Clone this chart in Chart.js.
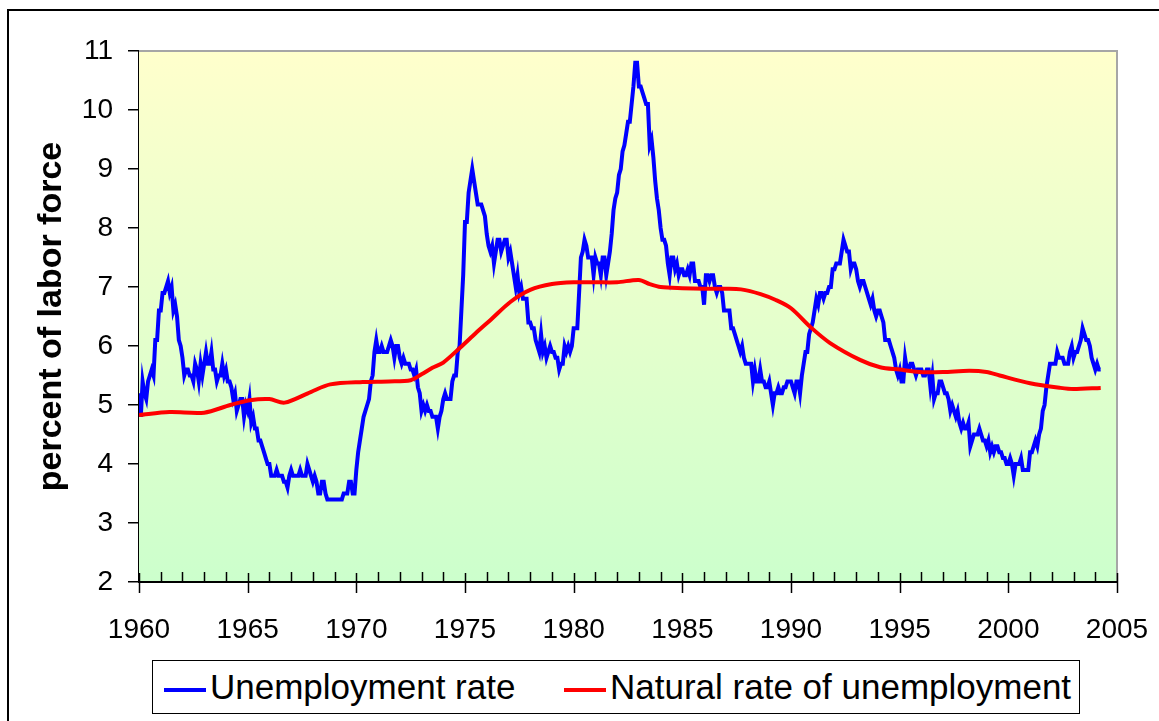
<!DOCTYPE html>
<html lang="en">
<head>
<meta charset="UTF-8">
<title>Unemployment rate and natural rate</title>
<script src="https://cdn.jsdelivr.net/npm/chart.js"></script>
<style>
  html, body { margin: 0; background: #fff; overflow: hidden; font-family: 'Liberation Sans', Arial, sans-serif; }
  #frame { position: absolute; left: 7px; top: 9px; width: 1152px; height: 712px;
           border-top: 2px solid #000; border-left: 2px solid #000; box-sizing: border-box; }
  #wrap { position: absolute; left: 0; top: 0; width: 1159px; height: 721px; }
  #legend { position: absolute; left: 152px; top: 660px; width: 926px; height: 52px;
            border: 1px solid #000; background: #fff; }
  .item { position: absolute; top: 6px; font-size: 35px; line-height: 40px; color: #000; white-space: nowrap; }
  .swatch { position: absolute; top: 27px; width: 42px; height: 4px; }
</style>
</head>
<body>
<div id="frame"></div>
<div id="wrap"><canvas id="chart"></canvas></div>
<div id="legend">
  <div class="swatch" style="left:11px;background:#0000ff"></div>
  <div class="item" style="left:57px">Unemployment rate</div>
  <div class="swatch" style="left:411px;background:#ff0000"></div>
  <div class="item" style="left:457px">Natural rate of unemployment</div>
</div>

<script>
// monthly unemployment rate, Jan 1960 onward (one row per year)
const u1960s = [
  5.2, 4.8, 5.4, 5.2, 5.1, 5.4, 5.5, 5.6, 5.5, 6.1, 6.1, 6.6,
  6.6, 6.9, 6.9, 7.0, 7.1, 6.9, 7.0, 6.6, 6.7, 6.5, 6.1, 6.0,
  5.8, 5.5, 5.6, 5.6, 5.5, 5.5, 5.4, 5.7, 5.6, 5.4, 5.7, 5.5,
  5.7, 5.9, 5.7, 5.7, 5.9, 5.6, 5.6, 5.4, 5.5, 5.5, 5.7, 5.5,
  5.6, 5.4, 5.4, 5.3, 5.1, 5.2, 4.9, 5.0, 5.1, 5.1, 4.8, 5.0,
  4.9, 5.1, 4.7, 4.8, 4.6, 4.6, 4.4, 4.4, 4.3, 4.2, 4.1, 4.0,
  4.0, 3.8, 3.8, 3.8, 3.9, 3.8, 3.8, 3.8, 3.7, 3.7, 3.6, 3.8,
  3.9, 3.8, 3.8, 3.8, 3.8, 3.9, 3.8, 3.8, 3.8, 4.0, 3.9, 3.8,
  3.7, 3.8, 3.7, 3.5, 3.5, 3.7, 3.7, 3.5, 3.4, 3.4, 3.4, 3.4,
  3.4, 3.4, 3.4, 3.4, 3.4, 3.5, 3.5, 3.5, 3.7, 3.7, 3.5, 3.5
];
const u1970s = [
  3.9, 4.2, 4.4, 4.6, 4.8, 4.9, 5.0, 5.1, 5.4, 5.5, 5.9, 6.1,
  5.9, 5.9, 6.0, 5.9, 5.9, 5.9, 6.0, 6.1, 6.0, 5.8, 6.0, 6.0,
  5.8, 5.7, 5.8, 5.7, 5.7, 5.7, 5.6, 5.6, 5.5, 5.6, 5.3, 5.2,
  4.9, 5.0, 4.9, 5.0, 4.9, 4.9, 4.8, 4.8, 4.8, 4.6, 4.8, 4.9,
  5.1, 5.2, 5.1, 5.1, 5.1, 5.4, 5.5, 5.5, 5.9, 6.0, 6.6, 7.2,
  8.1, 8.1, 8.6, 8.8, 9.0, 8.8, 8.6, 8.4, 8.4, 8.4, 8.3, 8.2,
  7.9, 7.7, 7.6, 7.7, 7.4, 7.6, 7.8, 7.8, 7.6, 7.7, 7.8, 7.8,
  7.5, 7.6, 7.4, 7.2, 7.0, 7.2, 6.9, 7.0, 6.8, 6.8, 6.8, 6.4,
  6.4, 6.3, 6.3, 6.1, 6.0, 5.9, 6.2, 5.9, 6.0, 5.8, 5.9, 6.0,
  5.9, 5.9, 5.8, 5.8, 5.6, 5.7, 5.7, 6.0, 5.9, 6.0, 5.9, 6.0
];
const u1980s = [
  6.3, 6.3, 6.3, 6.9, 7.5, 7.6, 7.8, 7.7, 7.5, 7.5, 7.5, 7.2,
  7.5, 7.4, 7.4, 7.2, 7.5, 7.5, 7.2, 7.4, 7.6, 7.9, 8.3, 8.5,
  8.6, 8.9, 9.0, 9.3, 9.4, 9.6, 9.8, 9.8, 10.1, 10.4, 10.8, 10.8,
  10.4, 10.4, 10.3, 10.2, 10.1, 10.1, 9.4, 9.5, 9.2, 8.8, 8.5, 8.3,
  8.0, 7.8, 7.8, 7.7, 7.4, 7.2, 7.5, 7.5, 7.3, 7.4, 7.2, 7.3,
  7.3, 7.2, 7.2, 7.3, 7.2, 7.4, 7.4, 7.1, 7.1, 7.1, 7.0, 7.0,
  6.7, 7.2, 7.2, 7.1, 7.2, 7.2, 7.0, 6.9, 7.0, 7.0, 6.9, 6.6,
  6.6, 6.6, 6.6, 6.3, 6.3, 6.2, 6.1, 6.0, 5.9, 6.0, 5.8, 5.7,
  5.7, 5.7, 5.7, 5.4, 5.6, 5.4, 5.4, 5.6, 5.4, 5.4, 5.3, 5.3,
  5.4, 5.2, 5.0, 5.2, 5.2, 5.3, 5.2, 5.2, 5.3, 5.3, 5.4, 5.4
];
const u1990s = [
  5.4, 5.3, 5.2, 5.4, 5.4, 5.2, 5.5, 5.7, 5.9, 5.9, 6.2, 6.3,
  6.4, 6.6, 6.8, 6.7, 6.9, 6.9, 6.8, 6.9, 6.9, 7.0, 7.0, 7.3,
  7.3, 7.4, 7.4, 7.4, 7.6, 7.8, 7.7, 7.6, 7.6, 7.3, 7.4, 7.4,
  7.3, 7.1, 7.0, 7.1, 7.1, 7.0, 6.9, 6.8, 6.7, 6.8, 6.6, 6.5,
  6.6, 6.6, 6.5, 6.4, 6.1, 6.1, 6.1, 6.0, 5.9, 5.8, 5.6, 5.5,
  5.6, 5.4, 5.4, 5.8, 5.6, 5.6, 5.7, 5.7, 5.6, 5.5, 5.6, 5.6,
  5.6, 5.5, 5.5, 5.6, 5.6, 5.3, 5.5, 5.1, 5.2, 5.2, 5.4, 5.4,
  5.3, 5.2, 5.2, 5.1, 4.9, 5.0, 4.9, 4.8, 4.9, 4.7, 4.6, 4.7,
  4.6, 4.6, 4.7, 4.3, 4.4, 4.5, 4.5, 4.5, 4.6, 4.5, 4.4, 4.4,
  4.3, 4.4, 4.2, 4.3, 4.2, 4.3, 4.3, 4.2, 4.2, 4.1, 4.1, 4.0
];
const u2000s = [
  4.0, 4.1, 4.0, 3.8, 4.0, 4.0, 4.0, 4.1, 3.9, 3.9, 3.9, 3.9,
  4.2, 4.2, 4.3, 4.4, 4.3, 4.5, 4.6, 4.9, 5.0, 5.3, 5.5, 5.7,
  5.7, 5.7, 5.7, 5.9, 5.8, 5.8, 5.8, 5.7, 5.7, 5.7, 5.9, 6.0,
  5.8, 5.9, 5.9, 6.0, 6.1, 6.3, 6.2, 6.1, 6.1, 6.0, 5.8, 5.7,
  5.6, 5.7, 5.6, 5.6
];
const firstYear = 1960;

// natural rate of unemployment
const naturalYears = [
  1960.0, 1961.4, 1963.0, 1964.2, 1965.1, 1966.0, 1966.7, 1967.9, 1968.8, 1970.3,
  1971.5, 1972.5, 1973.0, 1973.5, 1974.0, 1974.8, 1975.5, 1976.2, 1977.1, 1978.0,
  1979.0, 1980.0, 1981.0, 1982.0, 1983.0, 1983.5, 1984.0, 1985.0, 1986.0, 1987.0,
  1987.7, 1988.6, 1989.3, 1990.0, 1990.9, 1991.8, 1993.2, 1994.1, 1995.0, 1995.9,
  1997.0, 1998.2, 1999.0, 1999.6, 2001.0, 2002.4, 2003.0, 2004.25
];
const naturalRate = [
  4.83, 4.88, 4.87, 5.0, 5.08, 5.1, 5.04, 5.22, 5.35, 5.39,
  5.4, 5.42, 5.52, 5.63, 5.72, 5.98, 6.22, 6.45, 6.75, 6.95,
  7.05, 7.08, 7.08, 7.08, 7.12, 7.05, 7.0, 6.98, 6.97, 6.97,
  6.96, 6.88, 6.78, 6.64, 6.32, 6.05, 5.76, 5.64, 5.6, 5.56,
  5.56, 5.58, 5.56, 5.5, 5.37, 5.29, 5.27, 5.29
];

const yTicks = [2, 3, 4, 5, 6, 7, 8, 9, 10, 11];
const xLabels = [1960, 1965, 1970, 1975, 1980, 1985, 1990, 1995, 2000, 2005];

const monthly = [].concat(u1960s, u1970s, u1980s, u1990s, u2000s);
const unempPoints = monthly.map((v, i) => ({ x: firstYear + i / 12, y: v }));
const naturalPoints = naturalYears.map((yr, i) => ({ x: yr, y: naturalRate[i] }));

const FONT = "'Liberation Sans', Arial, sans-serif";

// yellow-to-green plot background, grey top/right frame, x tick marks
const plotDeco = {
  id: 'plotDeco',
  beforeDatasetsDraw(chart) {
    const { ctx, chartArea: a } = chart;
    const g = ctx.createLinearGradient(0, a.top, 0, a.bottom);
    g.addColorStop(0, '#ffffcc');
    g.addColorStop(1, '#ccffcc');
    ctx.save();
    ctx.fillStyle = g;
    ctx.fillRect(a.left, a.top, a.right - a.left, a.bottom - a.top);
    ctx.restore();
  },
  afterDraw(chart) {
    const { ctx, chartArea: a } = chart;
    const xs = chart.scales.x;
    ctx.save();
    ctx.strokeStyle = '#a6a6a6';
    ctx.lineWidth = 2;
    ctx.beginPath();
    ctx.moveTo(a.left, a.top);
    ctx.lineTo(a.right, a.top);
    ctx.lineTo(a.right, a.bottom);
    ctx.stroke();
    ctx.strokeStyle = '#000';
    ctx.lineWidth = 1.5;
    for (let yr = 1960; yr <= 2005; yr++) {
      const px = Math.round(xs.getPixelForValue(yr)) + 0.5;
      const major = yr % 5 === 0;
      ctx.beginPath();
      ctx.moveTo(px, a.bottom - (major ? 9 : 10));
      ctx.lineTo(px, a.bottom + (major ? 11 : 0));
      ctx.stroke();
    }
    ctx.lineWidth = 2;
    ctx.beginPath();
    ctx.moveTo(a.left, a.bottom);
    ctx.lineTo(a.right, a.bottom);
    ctx.stroke();
    ctx.restore();
  }
};

new Chart(document.getElementById('chart'), {
  type: 'line',
  data: {
    datasets: [{
      label: 'Unemployment rate',
      data: unempPoints,
      borderColor: '#0000ff',
      borderWidth: 4,
      pointRadius: 0,
      tension: 0,
      order: 2
    }, {
      label: 'Natural rate of unemployment',
      data: naturalPoints,
      borderColor: '#ff0000',
      borderWidth: 4,
      pointRadius: 0,
      tension: 0.3,
      order: 1
    }]
  },
  options: {
    responsive: true,
    maintainAspectRatio: false,
    animation: false,
    layout: { padding: { top: 51, right: 42, left: 0, bottom: 0 } },
    plugins: { legend: { display: false }, tooltip: { enabled: false } },
    scales: {
      x: {
        type: 'linear',
        min: 1960,
        max: 2005,
        afterFit: s => { s.height = 139; s.paddingLeft = 0; s.paddingRight = 0; },
        afterBuildTicks: s => { s.ticks = xLabels.map(v => ({ value: v })); },
        ticks: {
          autoSkip: false,
          maxRotation: 0,
          padding: 20,
          color: '#000',
          font: { family: FONT, size: 28 },
          callback: v => String(v)
        },
        grid: { drawOnChartArea: false, color: 'transparent', tickLength: 11 },
        border: { color: '#000', width: 2 }
      },
      y: {
        min: 2,
        max: 11,
        afterFit: s => { s.width = 139; s.paddingTop = 0; s.paddingBottom = 0; },
        afterBuildTicks: s => { s.ticks = yTicks.map(v => ({ value: v })); },
        ticks: {
          padding: 15,
          color: '#000',
          font: { family: FONT, size: 28 }
        },
        grid: { drawOnChartArea: false, color: '#000', lineWidth: 1.5, tickLength: 11 },
        border: { color: '#000', width: 2 },
        title: {
          display: true,
          text: 'percent of labor force',
          color: '#000',
          font: { family: FONT, size: 34, weight: 'bold' },
          padding: { top: 31, bottom: 0 }
        }
      }
    }
  },
  plugins: [plotDeco]
});
</script>
</body>
</html>
